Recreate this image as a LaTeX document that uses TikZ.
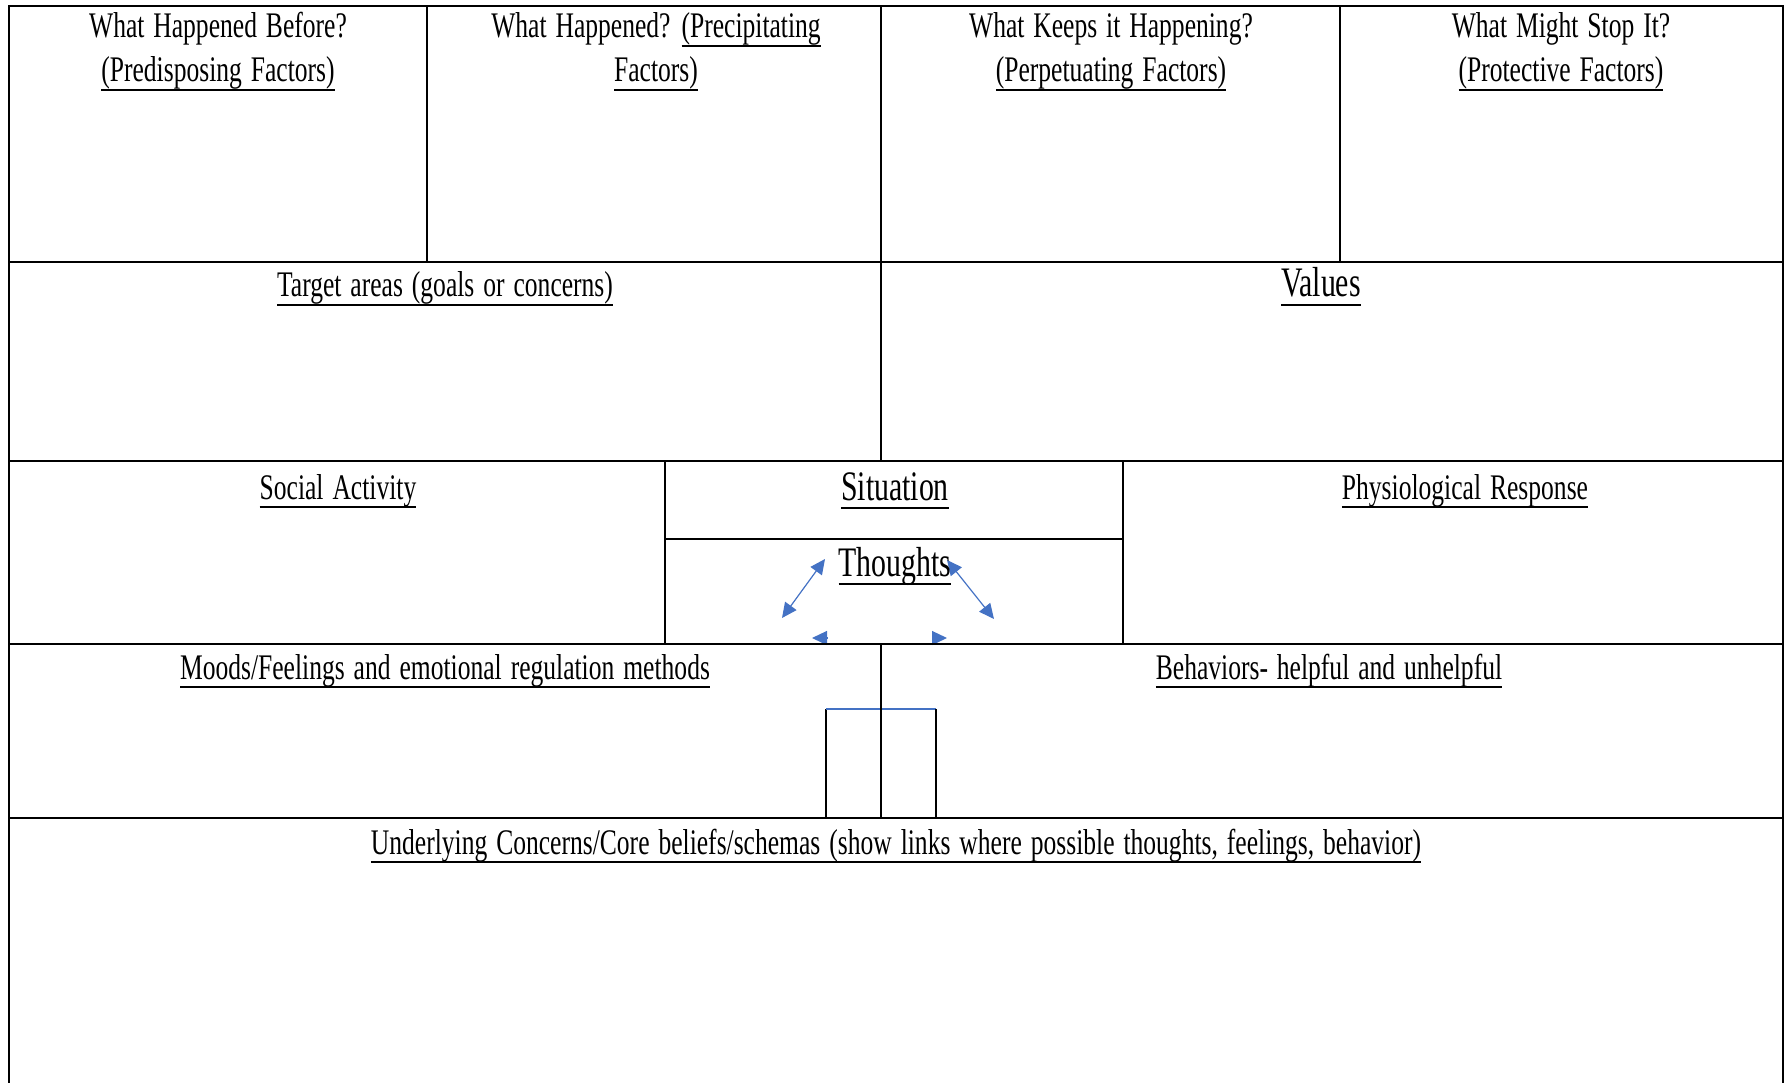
\documentclass[tikz,border=0pt]{standalone}
\usepackage{fontspec}
\setmainfont{Liberation Serif}[FakeStretch=0.71, WordSpace=1.4]
\usepackage{tikz}
\usetikzlibrary{arrows.meta}
\usepackage{xcolor}
\definecolor{linkcol}{RGB}{68,114,196}
% underlined text with a heavier rule below the descenders
\newcommand{\ulbox}[1]{\setbox0\hbox{#1}\rlap{\rule[-9pt]{\wd0}{1.8pt}}\box0}
\tikzset{
  % table rule
  rule/.style={line width=1.8pt, black},
  % cell heading (base = last line)
  head/.style={font=\fontsize{36}{44}\selectfont, align=center, inner sep=0pt, anchor=base},
  % large cell heading
  bighead/.style={font=\fontsize{42}{50}\selectfont, inner sep=0pt, anchor=base},
  % two-way link
  link/.style={{Triangle[length=15pt,width=14pt]}-{Triangle[length=15pt,width=14pt]}, linkcol, line width=1.2pt},
  % bare arrow head
  linkhead/.style={-{Triangle[length=15pt,width=14pt]}, linkcol, line width=1.2pt},
}

\begin{document}
\begin{tikzpicture}[x=1pt,y=-1pt]
  \useasboundingbox (0,0) rectangle (1786,1083);

  % links round the thoughts
  \coordinate (tl1) at (825,559);
  \coordinate (tl2) at (782,618);
  \coordinate (tr1) at (947,560);
  \coordinate (tr2) at (994,619);
  \coordinate (bl) at (812,638);
  \coordinate (blb) at (827,638);
  \coordinate (br) at (947,638);
  \coordinate (brb) at (932,638);
  \draw[link] (tl1) -- (tl2);
  \draw[link] (tr1) -- (tr2);
  \draw[linkhead] (blb) -- (bl);
  \draw[linkhead] (brb) -- (br);

  % small box under the middle rule
  \coordinate (bx1) at (826,818);
  \coordinate (bx2) at (826,709);
  \coordinate (bx3) at (936,709);
  \coordinate (bx4) at (936,818);
  \draw[line width=1.5pt] (bx1) -- (bx2);
  \draw[line width=1.5pt, linkcol] (bx2) -- (bx3);
  \draw[line width=1.5pt] (bx3) -- (bx4);

  % table frame
  \draw[rule] (9,1083) -- (9,6) -- (1783,6) -- (1783,1083);
  \draw[rule] (9,262) -- (1783,262);
  \draw[rule] (9,461) -- (1783,461);
  \draw[rule] (9,644) -- (1783,644);
  \draw[rule] (9,818) -- (1783,818);
  % row 1
  \draw[rule] (427,6) -- (427,262);
  \draw[rule] (881,6) -- (881,262);
  \draw[rule] (1340,6) -- (1340,262);
  % row 2
  \draw[rule] (881,262) -- (881,461);
  % row 3
  \draw[rule] (665,461) -- (665,644);
  \draw[rule] (1123,461) -- (1123,644);
  \draw[rule] (665,539) -- (1123,539);
  % row 4
  \draw[rule] (881,644) -- (881,818);

  % headings
  \node[head] (before) at (218,82) {What Happened Before?\\\ulbox{(Predisposing Factors)}};
  \node[head] (happened) at (656,82) {What Happened? \ulbox{(Precipitating}\\\ulbox{Factors)}};
  \node[head] (keeps) at (1111,82) {What Keeps it Happening?\\\ulbox{(Perpetuating Factors)}};
  \node[head] (stop) at (1561,82) {What Might Stop It?\\\ulbox{(Protective Factors)}};
  \node[head] (target) at (445,297) {\ulbox{Target areas (goals or concerns)}};
  \node[bighead] (values) at (1321,297) {\ulbox{Values}};
  \node[head] (social) at (338,499) {\ulbox{Social Activity}};
  \node[bighead] (situation) at (895,500) {\ulbox{Situation}};
  \node[head] (physio) at (1465,499) {\ulbox{Physiological Response}};
  \node[bighead] (thoughts) at (895,576) {\ulbox{Thoughts}};
  \node[head] (moods) at (445,679) {\ulbox{Moods/Feelings and emotional regulation methods}};
  \node[head] (behaviors) at (1329,679) {\ulbox{Behaviors- helpful and unhelpful}};
  \node[head] (core) at (896,854) {\ulbox{Underlying Concerns/Core beliefs/schemas (show links where possible thoughts, feelings, behavior)}};
\end{tikzpicture}
\end{document}
